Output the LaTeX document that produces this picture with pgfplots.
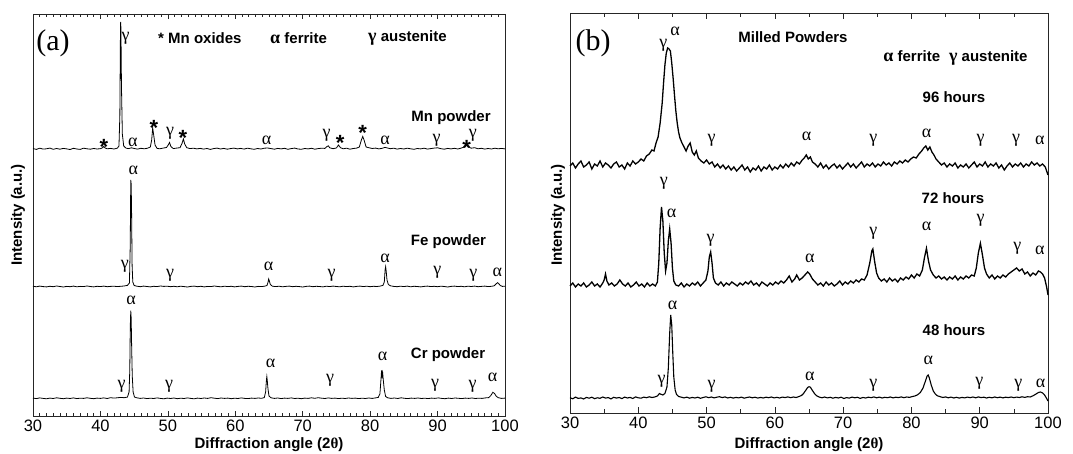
\documentclass[border=0pt]{standalone}
\usepackage{fontspec}
\setmainfont{Liberation Sans}
\newfontfamily\serif{Liberation Serif}
\usepackage{pgfplots}
\pgfplotsset{compat=1.18}
\usepackage{pgfplotstable}

\newcommand{\grk}{\serif\fontsize{18}{18}\selectfont}
\newcommand{\lbl}{\bfseries\fontsize{15}{15}\selectfont}

\pgfplotstableread{
x y
30 267.4
30.5 266.6
31 267.8
31.5 266.9
32 267.2
32.5 267.9
33 266.7
33.5 267.5
34 266.8
34.5 267.6
35 267.1
35.5 266.5
36 267.7
36.5 267.0
37 266.6
37.5 267.8
38 267.2
38.5 266.8
39 267.5
39.5 267.0
40 267.3
40.3 268.2
40.5 269.5
40.7 268.0
41 267.2
41.5 267.6
42 267.0
42.5 267.8
42.75 270
42.88 300
42.96 375
43.0 394
43.04 388
43.12 330
43.25 282
43.45 270
43.8 267.8
44.2 267.4
44.6 268.2
45 267.5
45.5 266.9
46 267.7
46.5 267.2
47 267.8
47.4 269
47.6 276
47.75 288
47.9 281
48.1 271
48.4 267.6
48.8 267.2
49.3 267.9
49.8 268.5
50.05 271
50.25 273.5
50.45 269.5
50.8 267.4
51.3 267.9
51.8 268.3
52.1 272.5
52.3 277
52.5 272
52.8 268.3
53.3 267.4
53.8 267.8
54.3 267.1
54.8 267.6
55.3 266.9
55.8 267.5
56.3 266.6
56.8 267.4
57.3 267.9
57.8 267.0
58.3 267.6
58.8 266.8
59.3 267.4
59.8 267.9
60.3 267.1
60.8 267.6
61.3 266.9
61.8 267.8
62.3 267.2
62.8 266.7
63.3 267.5
63.8 267.0
64.3 267.8
64.8 268.0
65.3 267.4
65.8 266.8
66.3 267.6
66.8 267.1
67.3 267.7
67.8 266.7
68.3 267.4
68.8 267.9
69.3 267.0
69.8 266.7
70.3 267.5
70.8 267.1
71.3 267.7
71.8 266.8
72.3 267.4
72.8 267.8
73.3 267.6
73.6 269.5
73.8 270.2
74.0 268.2
74.5 267.3
75.0 268
75.3 271
75.6 268.3
76 267.2
76.5 267.8
77 266.8
77.5 267.5
78 267.9
78.4 269
78.7 276
78.9 279.5
79.1 276
79.4 269
79.8 268.3
80.3 267.5
80.8 267.9
81.3 267.1
81.8 267.7
82.2 268.6
82.5 268.1
83 267.3
83.5 267.8
84 266.9
84.5 267.5
85 267.0
85.5 267.8
86 267.2
86.5 266.7
87 267.5
87.5 267.1
88 267.8
88.5 266.9
89 267.4
89.5 267.9
90 268.2
90.5 267.3
91 266.8
91.5 267.6
92 267.1
92.5 267.7
93 267.0
93.5 267.9
94 269
94.3 270.5
94.6 269
95 267.8
95.5 268.3
96 267.2
96.5 267.7
97 266.9
97.5 267.5
98 267.0
98.5 267.8
99 267.2
99.5 267.6
100 267.1
}\mntab

\pgfplotstableread{
x y
30 129.8
30.5 129.2
31 129.9
31.5 129.4
32 129.1
32.5 129.7
33 129.3
33.5 130.0
34 129.5
34.5 129.0
35 129.6
35.5 129.3
36 129.9
36.5 129.2
37 129.6
37.5 129.4
38 130.0
38.5 129.5
39 129.1
39.5 129.7
40 129.4
40.5 129.9
41 129.3
41.5 129.6
42 129.8
42.5 129.4
43 129.7
43.5 130.0
44.0 130.6
44.3 133
44.42 170
44.5 236
44.56 232
44.62 205
44.7 150
44.8 134
45.0 130.5
45.4 129.8
45.9 129.3
46.4 129.9
46.9 129.5
47.4 129.1
47.9 129.7
48.4 129.4
48.9 130.0
49.4 129.6
49.9 129.8
50.4 129.3
50.9 129.7
51.4 129.2
51.9 129.8
52.4 129.4
52.9 129.0
53.4 129.6
53.9 129.9
54.4 129.3
54.9 129.7
55.4 129.1
55.9 129.6
56.4 129.4
56.9 130.0
57.4 129.5
57.9 129.2
58.4 129.8
58.9 129.4
59.4 129.7
59.9 129.1
60.4 129.6
60.9 129.9
61.4 129.3
61.9 129.7
62.4 129.5
62.9 129.0
63.4 129.6
63.9 129.4
64.4 129.9
64.7 130.5
64.85 133.5
64.95 137
65.05 135
65.2 131.5
65.5 129.8
66 129.4
66.5 129.8
67 129.2
67.5 129.6
68 129.9
68.5 129.3
69 129.7
69.5 129.4
70 129.0
70.5 129.6
71 129.9
71.5 129.3
72 129.7
72.5 129.5
73 129.1
73.5 129.8
74 129.4
74.5 129.9
75 129.5
75.5 129.2
76 129.8
76.5 129.4
77 129.7
77.5 129.1
78 129.6
78.5 129.9
79 129.4
79.5 129.8
80 129.3
80.5 129.7
81 129.5
81.5 129.9
81.9 130.6
82.1 134
82.22 146
82.3 149.3
82.38 145
82.5 136
82.7 131.5
83 130.2
83.5 129.6
84 129.3
84.5 129.8
85 129.4
85.5 129.9
86 129.2
86.5 129.7
87 129.5
87.5 129.1
88 129.6
88.5 129.9
89 129.4
89.5 129.7
90 129.3
90.5 129.8
91 129.5
91.5 129.0
92 129.6
92.5 129.9
93 129.4
93.5 129.7
94 129.2
94.5 129.8
95 129.5
95.5 129.9
96 129.3
96.5 129.6
97 129.9
97.5 129.4
98 129.7
98.4 130.2
98.75 132.5
98.9 133.3
99.05 132.5
99.3 130.5
99.6 129.6
100 129.8
}\fetab

\pgfplotstableread{
x y
30 17.9
30.5 17.4
31 18.1
31.5 17.6
32 17.2
32.5 17.9
33 17.5
33.5 18.2
34 17.7
34.5 17.3
35 17.9
35.5 17.5
36 18.1
36.5 17.4
37 17.8
37.5 17.6
38 18.2
38.5 17.7
39 17.3
39.5 17.9
40 17.6
40.5 18.1
41 17.5
41.5 18.3
42 17.9
42.5 18.2
43 18.6
43.5 18.3
44.0 18.9
44.25 24
44.35 45
44.43 90
44.5 105.3
44.56 98
44.63 70
44.72 40
44.85 24
45.05 19
45.4 18.2
45.9 17.6
46.4 18.0
46.9 17.4
47.4 17.8
47.9 17.5
48.4 18.1
48.9 17.6
49.4 17.2
49.9 17.9
50.4 17.5
50.9 18.0
51.4 17.3
51.9 17.8
52.4 17.5
52.9 18.1
53.4 17.6
53.9 17.2
54.4 17.9
54.9 17.5
55.4 18.0
55.9 17.6
56.4 18.3
56.9 17.8
57.4 17.4
57.9 18.0
58.4 17.6
58.9 17.9
59.4 17.3
59.9 17.8
60.4 17.5
60.9 18.1
61.4 17.6
61.9 17.4
62.4 17.9
62.9 17.6
63.4 18.0
63.9 17.7
64.3 18.4
64.5 24
64.62 36
64.68 39.4
64.75 35
64.85 27
65.0 20
65.3 18.2
65.8 17.6
66.3 18.0
66.8 17.4
67.3 17.9
67.8 17.6
68.3 18.1
68.8 17.5
69.3 17.8
69.8 17.3
70.3 17.9
70.8 17.6
71.3 18.2
71.8 17.7
72.3 18.3
72.8 17.8
73.3 17.5
73.8 18.1
74.3 17.6
74.8 17.9
75.3 17.4
75.8 17.8
76.3 17.5
76.8 18.0
77.3 17.6
77.8 17.9
78.3 17.4
78.8 17.8
79.3 17.5
79.8 18.0
80.3 17.6
80.8 18.1
81.2 18.6
81.45 22
81.6 36
81.7 45.7
81.78 40
81.86 43
81.95 36
82.1 26
82.3 19.5
82.6 18.2
83.1 17.6
83.6 18.0
84.1 17.5
84.6 18.2
85.1 17.7
85.6 17.4
86.1 17.9
86.6 17.6
87.1 18.0
87.6 17.5
88.1 17.8
88.6 17.4
89.1 17.9
89.6 17.6
90.1 18.1
90.6 17.6
91.1 17.3
91.6 17.9
92.1 17.5
92.6 18.0
93.1 17.7
93.6 17.4
94.1 17.9
94.6 17.6
95.1 18.0
95.6 17.5
96.1 17.8
96.6 17.6
97.1 18.1
97.6 18.4
97.9 20.5
98.2 23.7
98.45 22.5
98.7 19.8
99.0 18.3
99.5 17.6
100 17.9
}\crtab

\pgfplotstableread{
x y
30.0 247
30.4 250
30.8 245
31.2 249
31.6 252
32.0 246
32.4 248
32.8 251
33.2 244
33.6 249
34.0 247
34.4 252
34.8 246
35.2 250
35.6 248
36.0 245
36.4 249
36.8 251
37.2 246
37.6 248
38.0 244
38.4 250
38.8 247
39.2 252
39.6 249
40.0 251
40.4 254
40.8 252
41.2 257
41.6 259
42.0 263
42.3 262
42.6 270
42.9 276
43.2 290
43.5 310
43.7 330
43.9 348
44.1 360
44.3 365
44.5 364
44.7 362
44.9 350
45.1 335
45.3 318
45.5 302
45.7 290
45.9 281
46.1 275
46.4 270
46.7 266
47.0 262
47.3 267
47.6 270
47.9 261
48.2 258
48.5 262
48.8 255
49.2 252
49.6 250
50.0 253
50.4 249
50.8 251
51.2 246
51.6 249
52.0 245
52.4 248
52.8 244
53.2 247
53.6 243
54.0 246
54.4 242
54.8 245
55.2 248
55.6 243
56.0 246
56.4 241
56.8 245
57.2 243
57.6 247
58.0 242
58.4 246
58.8 244
59.2 248
59.6 243
60.0 246
60.4 244
60.8 248
61.2 245
61.6 249
62.0 246
62.4 250
62.8 247
63.2 251
63.6 249
64.0 253
64.3 255
64.6 258
64.9 254
65.2 256
65.5 251
65.9 249
66.3 246
66.7 250
67.1 245
67.5 248
67.9 244
68.3 247
68.7 249
69.1 245
69.5 248
69.9 244
70.3 247
70.7 250
71.1 246
71.5 249
71.9 245
72.3 248
72.7 251
73.1 246
73.5 249
73.9 247
74.3 250
74.7 246
75.1 249
75.5 247
75.9 251
76.3 248
76.7 250
77.1 247
77.5 251
77.9 249
78.3 252
78.7 250
79.1 253
79.5 251
79.9 254
80.3 256
80.7 255
81.1 259
81.5 262
81.8 265
82.1 267
82.4 263
82.7 266
83.0 261
83.3 258
83.6 254
84.0 251
84.4 248
84.8 250
85.2 246
85.6 249
86.0 247
86.4 250
86.8 245
87.2 248
87.6 246
88.0 249
88.4 245
88.8 248
89.2 251
89.6 246
90.0 249
90.4 247
90.8 251
91.2 246
91.6 249
92.0 247
92.4 250
92.8 245
93.2 248
93.6 243
94.0 247
94.4 250
94.8 246
95.2 249
95.6 247
96.0 250
96.4 246
96.8 249
97.2 247
97.6 251
98.0 248
98.4 250
98.8 247
99.2 249
99.6 246
100.0 238
}\hninetysix

\pgfplotstableread{
x y
30.0 127
30.4 130
30.8 126
31.2 129
31.6 127
32.0 130
32.4 126
32.8 128
33.2 131
33.6 127
34.0 129
34.4 126
34.8 130
35.0 133
35.2 139
35.4 132
35.7 128
36.1 130
36.5 127
36.9 129
37.3 133
37.7 129
38.1 127
38.5 130
38.9 126
39.3 128
39.7 131
40.1 127
40.5 129
40.9 126
41.3 130
41.7 127
42.1 129
42.5 127
42.8 131
43.0 150
43.2 185
43.4 206
43.6 192
43.8 160
44.0 142
44.2 150
44.4 172
44.6 184
44.8 170
45.0 145
45.2 132
45.5 128
45.9 127
46.3 130
46.7 126
47.1 129
47.5 127
47.9 130
48.3 128
48.7 131
49.1 127
49.5 130
49.9 133
50.2 142
50.4 156
50.6 161
50.8 150
51.0 135
51.3 130
51.7 128
52.1 131
52.5 127
52.9 130
53.3 128
53.7 131
54.1 129
54.5 127
54.9 130
55.3 128
55.7 131
56.1 129
56.5 132
56.9 128
57.3 130
57.7 127
58.1 131
58.5 129
58.9 127
59.3 130
59.7 128
60.1 131
60.5 129
60.9 132
61.3 130
61.7 133
62.1 137
62.5 131
62.9 134
63.2 138
63.6 133
64.0 135
64.4 138
64.8 141
65.1 139
65.5 134
65.9 131
66.3 128
66.7 130
67.1 127
67.5 131
67.9 128
68.3 130
68.7 127
69.1 129
69.5 132
69.9 128
70.3 131
70.7 129
71.1 132
71.5 130
71.9 133
72.3 131
72.7 134
73.1 133
73.5 138
73.9 150
74.2 162
74.35 164
74.6 152
74.9 140
75.2 135
75.6 132
76.0 134
76.4 131
76.8 135
77.2 132
77.6 134
78.0 131
78.4 135
78.8 133
79.2 136
79.6 134
80.0 138
80.4 135
80.8 139
81.2 137
81.6 143
81.9 155
82.2 164.7
82.5 152
82.8 143
83.2 138
83.6 135
84.0 137
84.4 134
84.8 136
85.2 133
85.6 136
86.0 134
86.4 137
86.8 133
87.2 136
87.6 134
88.0 137
88.4 135
88.8 138
89.2 137
89.5 145
89.8 160
90.1 169.7
90.4 158
90.7 145
91.0 139
91.4 135
91.8 138
92.2 134
92.6 137
93.0 135
93.4 138
93.8 136
94.2 139
94.6 141
95.0 143
95.4 145
95.8 142
96.2 144
96.6 139
97.0 141
97.4 137
97.8 140
98.2 138
98.6 142
98.9 141
99.2 139
99.5 135
99.8 126
100.0 118
}\hseventytwo

\pgfplotstableread{
x y
30.0 15.3
30.4 14.2
30.8 15.9
31.2 14.6
31.6 15.1
32.0 14.0
32.4 15.6
32.8 14.8
33.2 15.8
33.6 14.3
34.0 15.2
34.4 14.7
34.8 16.0
35.2 14.9
35.6 15.4
36.0 14.1
36.4 15.7
36.8 14.9
37.2 15.5
37.6 14.4
38.0 15.9
38.4 15.0
38.8 15.6
39.2 14.5
39.6 16.1
40.0 15.2
40.4 14.8
40.8 15.9
41.2 15.3
41.6 16.2
42.0 15.5
42.4 16.0
42.8 17.0
43.1 19.5
43.3 18.8
43.6 18.0
43.9 19.5
44.2 26
44.4 45
44.6 80
44.75 98
44.9 88
45.05 60
45.2 36
45.4 23
45.6 18.5
45.9 16.5
46.3 15.8
46.7 15.1
47.1 15.9
47.5 14.8
47.9 15.6
48.3 15.0
48.7 15.8
49.1 14.7
49.5 15.5
49.9 16.2
50.3 15.3
50.7 16.0
51.1 15.1
51.5 15.8
51.9 16.3
52.3 15.4
52.7 16.1
53.1 15.0
53.5 15.7
53.9 14.9
54.3 15.6
54.7 15.1
55.1 15.9
55.5 14.8
55.9 15.5
56.3 16.0
56.7 15.2
57.1 15.8
57.5 14.9
57.9 15.6
58.3 15.0
58.7 15.8
59.1 15.3
59.5 16.0
59.9 15.1
60.3 15.7
60.7 15.0
61.1 15.9
61.5 15.4
61.9 16.1
62.3 15.3
62.7 16.0
63.1 15.5
63.5 16.4
63.9 17.5
64.2 19.5
64.5 22.5
64.8 25.5
65.0 26.3
65.2 25.8
65.5 22.5
65.8 19.5
66.1 17.3
66.5 15.9
66.9 15.2
67.3 16.0
67.7 15.1
68.1 15.7
68.5 14.8
68.9 15.6
69.3 15.0
69.7 15.8
70.1 14.5
70.5 15.4
70.9 14.9
71.3 15.9
71.7 15.2
72.1 15.7
72.5 14.6
72.9 15.5
73.3 15.0
73.7 15.8
74.1 15.3
74.5 16.1
74.9 15.2
75.3 15.9
75.7 15.0
76.1 15.7
76.5 15.3
76.9 16.0
77.3 15.1
77.7 15.8
78.1 15.4
78.5 16.1
78.9 15.3
79.3 16.0
79.7 15.6
80.1 16.4
80.5 17.0
80.9 18.2
81.3 20.5
81.7 25
82.0 31
82.3 37
82.45 38
82.6 35.5
82.9 28
83.2 22
83.5 19
83.8 17.2
84.2 16.3
84.6 15.5
85.0 16.1
85.4 15.2
85.8 15.9
86.2 15.0
86.6 15.7
87.0 14.9
87.4 15.6
87.8 15.1
88.2 15.9
88.6 15.3
89.0 16.0
89.4 15.2
89.8 16.1
90.2 15.4
90.6 15.8
91.0 15.0
91.4 15.7
91.8 15.2
92.2 16.0
92.6 15.3
93.0 15.9
93.4 15.1
93.8 15.8
94.2 15.4
94.6 16.0
95.0 15.3
95.4 15.9
95.8 15.5
96.2 16.2
96.6 15.6
97.0 16.3
97.4 16.0
97.8 17.2
98.2 18.8
98.6 20.5
98.9 21
99.2 20
99.5 18
99.8 14.5
100.0 12
}\hfortyeight

\pgfplotsset{
  xrd/.style={
    scale only axis, xmin=30, xmax=100, ymin=0,
    ytick=\empty, xtick={30,40,...,100},
    tick align=inside, xtick pos=both,
    axis line style={black!85, line width=0.8pt},
    every tick/.style={black!85, line width=0.6pt},
    /pgf/number format/assume math mode=true,
    xticklabel style={font=\fontsize{16.5}{16.5}\selectfont},
    xlabel={\textbf{Diffraction angle (2}{\serif θ}\textbf{)}},
    ylabel={Intensity (a.u.)},
    xlabel style={font=\lbl, anchor=center},
    ylabel style={font=\lbl, anchor=center},
    clip=false,
  },
}
\tikzset{
  gl/.style={font=\grk, inner sep=0pt},
  ast/.style={font=\bfseries\fontsize{22}{22}\selectfont, inner sep=0pt, yshift=-4.8pt},
  tl/.style={font=\lbl, inner sep=0pt},
}

\begin{document}
\begin{tikzpicture}
\useasboundingbox (0,0) rectangle (1073pt,454pt);

% ---------------- panel (a)
\begin{axis}[xrd, at={(33pt,38pt)}, anchor=south west,
  width=472pt, height=402pt, ymax=402,
  minor x tick num=9,
  major tick length=5pt, minor tick length=3pt,
  xlabel style={at={(axis description cs:0.5,-0.072)}},
  ylabel style={at={(axis description cs:-0.0318,0.5)}},
]
\addplot[black, line width=0.8pt] table[x=x,y=y] {\mntab};
\addplot[black, line width=0.8pt] table[x=x,y=y] {\fetab};
\addplot[black, line width=0.8pt] table[x=x,y=y] {\crtab};

\node[font=\serif\fontsize{30}{30}\selectfont, inner sep=0pt] at (axis cs:32.97,373) {(a)};
\node[gl] at (axis cs:43.75,378) {γ};
\node[tl, anchor=west] at (axis cs:48.54,378) {* Mn oxides};
\node[tl, anchor=west] at (axis cs:65.15,378) {{\grk α} ferrite};
\node[tl, anchor=west] at (axis cs:79.68,378) {{\grk γ} austenite};
\node[tl] at (axis cs:92.0,298) {Mn powder};
% Mn labels
\node[ast] at (axis cs:40.53,274.3) {*};
\node[gl] at (axis cs:44.79,274) {α};
\node[ast] at (axis cs:47.94,293.3) {*};
\node[gl] at (axis cs:50.32,283) {γ};
\node[ast] at (axis cs:52.25,283) {*};
\node[gl] at (axis cs:64.66,276) {α};
\node[gl] at (axis cs:73.56,281) {γ};
\node[ast] at (axis cs:75.56,278) {*};
\node[ast] at (axis cs:78.9,288) {*};
\node[gl] at (axis cs:82.2,276) {α};
\node[gl] at (axis cs:89.87,276) {γ};
\node[ast] at (axis cs:94.32,273) {*};
\node[gl] at (axis cs:95.25,281) {γ};
% Fe labels
\node[gl] at (axis cs:44.87,246) {α};
\node[gl] at (axis cs:43.64,149.3) {γ};
\node[gl] at (axis cs:50.32,141) {γ};
\node[gl] at (axis cs:64.95,149.3) {α};
\node[gl] at (axis cs:74.3,141) {γ};
\node[gl] at (axis cs:82.2,157.7) {α};
\node[gl] at (axis cs:89.96,144) {γ};
\node[gl] at (axis cs:95.3,141) {γ};
\node[gl] at (axis cs:98.86,143.3) {α};
\node[tl] at (axis cs:91.62,174.3) {Fe powder};
% Cr labels
\node[gl] at (axis cs:44.53,115.3) {α};
\node[gl] at (axis cs:43.15,29.3) {γ};
\node[gl] at (axis cs:50.17,29.3) {γ};
\node[gl] at (axis cs:65.25,52.7) {α};
\node[gl] at (axis cs:74.05,36) {γ};
\node[gl] at (axis cs:81.86,59.3) {α};
\node[tl] at (axis cs:91.55,61) {Cr powder};
\node[gl] at (axis cs:89.62,31) {γ};
\node[gl] at (axis cs:95.21,29.3) {γ};
\node[gl] at (axis cs:98.17,38.7) {α};
\end{axis}

% ---------------- panel (b)
\begin{axis}[xrd, at={(570pt,41pt)}, anchor=south west,
  width=478pt, height=400pt, ymax=400,
  minor x tick num=1,
  major tick length=6pt, minor tick length=4pt,
  xlabel style={at={(axis description cs:0.5,-0.08)}},
  ylabel style={at={(axis description cs:-0.0251,0.495)}},
]
\addplot[black, line width=1.3pt] table[x=x,y=y] {\hninetysix};
\addplot[black, line width=1.3pt] table[x=x,y=y] {\hseventytwo};
\addplot[black, line width=1.1pt] table[x=x,y=y] {\hfortyeight};

\node[font=\serif\fontsize{30}{30}\selectfont, inner sep=0pt] at (axis cs:33.37,370) {(b)};
\node[tl] at (axis cs:62.65,376.3) {Milled Powders};
\node[tl] at (axis cs:86.45,354.7) {{\grk α} ferrite\hspace{9pt}{\grk γ} austenite};
\node[tl] at (axis cs:86.23,316.3) {96 hours};
\node[gl] at (axis cs:43.66,368) {γ};
\node[gl] at (axis cs:45.38,381.3) {α};
\node[gl] at (axis cs:50.75,273) {γ};
\node[gl] at (axis cs:64.66,276.3) {α};
\node[gl] at (axis cs:74.41,273) {γ};
\node[gl] at (axis cs:82.23,279.7) {α};
\node[gl] at (axis cs:90.14,273) {γ};
\node[gl] at (axis cs:95.31,273) {γ};
\node[gl] at (axis cs:98.82,273) {α};
\node[tl] at (axis cs:86.08,214.7) {72 hours};
\node[gl] at (axis cs:43.76,229.7) {γ};
\node[gl] at (axis cs:44.89,199.7) {α};
\node[gl] at (axis cs:50.6,173) {γ};
\node[gl] at (axis cs:65.14,154.7) {α};
\node[gl] at (axis cs:74.41,179.7) {γ};
\node[gl] at (axis cs:82.23,186.3) {α};
\node[gl] at (axis cs:90.14,193) {γ};
\node[gl] at (axis cs:95.5,164.7) {γ};
\node[gl] at (axis cs:98.82,163) {α};
\node[tl] at (axis cs:86.23,83) {48 hours};
\node[gl] at (axis cs:45.04,108) {α};
\node[gl] at (axis cs:43.43,31.3) {γ};
\node[gl] at (axis cs:50.75,26.3) {γ};
\node[gl] at (axis cs:65.14,36.3) {α};
\node[gl] at (axis cs:74.41,28) {γ};
\node[gl] at (axis cs:82.47,53) {α};
\node[gl] at (axis cs:89.93,29.7) {γ};
\node[gl] at (axis cs:95.64,28) {γ};
\node[gl] at (axis cs:98.93,29.7) {α};
\end{axis}
\end{tikzpicture}
\end{document}
